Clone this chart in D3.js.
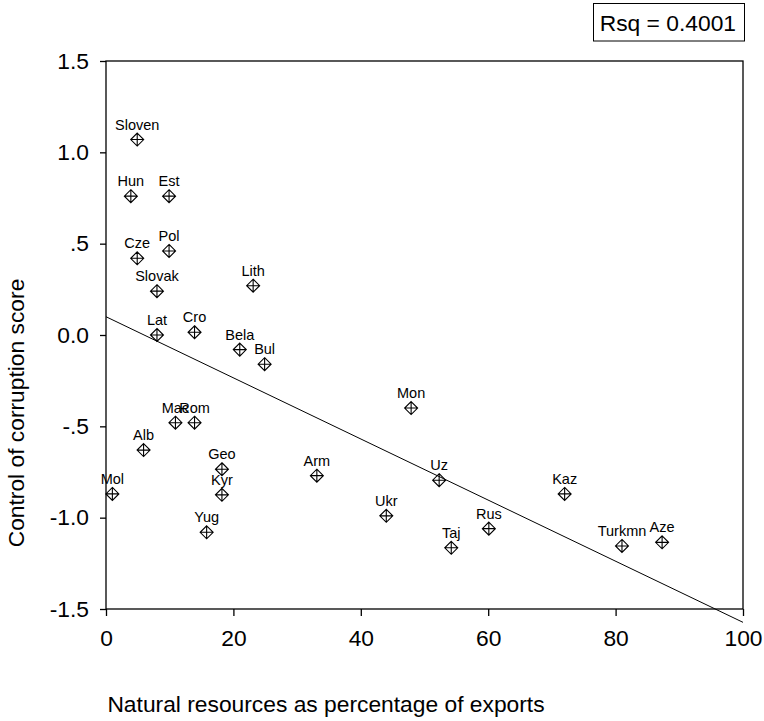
<!DOCTYPE html>
<html><head><meta charset="utf-8">
<script src="https://cdn.jsdelivr.net/npm/d3@7"></script>
<style>
body{margin:0;background:#fff;}
svg text{font-family:"Liberation Sans",Arial,Helvetica,sans-serif;fill:#000;}
</style></head>
<body><svg id="c" width="764" height="721"></svg>
<script>
const countries = ["Sloven","Hun","Est","Cze","Pol","Slovak","Lith","Lat","Cro","Bela","Bul","Mac","Rom","Alb","Mol","Geo","Kyr","Yug","Arm","Mon","Uz","Ukr","Taj","Rus","Kaz","Turkmn","Aze"];
const resources = [4.9,3.9,9.9,4.9,9.9,8.0,23.1,8.0,13.9,21.0,24.9,10.9,13.9,5.9,1.0,18.2,18.2,15.8,33.1,47.9,52.3,44.0,54.2,60.1,72.0,81.0,87.3];
const corruption = [1.07,0.76,0.76,0.42,0.46,0.24,0.27,0.00,0.015,-0.08,-0.16,-0.48,-0.48,-0.63,-0.87,-0.735,-0.875,-1.08,-0.77,-0.40,-0.795,-0.99,-1.165,-1.06,-0.87,-1.155,-1.135];
const xTicks = [0,20,40,60,80,100];
const yTicks = [1.5,1.0,0.5,0.0,-0.5,-1.0,-1.5];
const yTickLabels = ["1.5","1.0",".5","0.0","-.5","-1.0","-1.5"];
const fitIntercept = 0.10;
const fitSlope = -0.01673;
const rsqLabel = "Rsq = 0.4001";
const xTitle = "Natural resources as percentage of exports";
const yTitle = "Control of corruption score";

const svg = d3.select("#c");
const L=106, R=743, T=61, B=609;
const x = d3.scaleLinear().domain([0,100]).range([L,R]);
const y = d3.scaleLinear().domain([-1.5,1.5]).range([B,T]);
const big = "22.8px";

// frame
svg.append("rect").attr("x",L).attr("y",T).attr("width",R-L).attr("height",B-T)
  .attr("fill","none").attr("stroke","#000").attr("stroke-width",1.3);

// axes
const yAxis = d3.axisLeft(y).tickValues(yTicks).tickSize(6).tickPadding(11)
  .tickFormat((d,i)=>yTickLabels[i]);
const gy = svg.append("g").attr("transform",`translate(${L},0)`).call(yAxis);
const xAxis = d3.axisBottom(x).tickValues(xTicks).tickSize(7).tickPadding(14).tickFormat(d3.format("d"));
const gx = svg.append("g").attr("transform",`translate(0,${B})`).call(xAxis);
[gy,gx].forEach(g=>{
  g.select(".domain").remove();
  g.selectAll(".tick line").attr("stroke","#000").attr("stroke-width",1.3);
  g.selectAll(".tick text").style("font-size",big).attr("fill","#000")
   .style("font-family","'Liberation Sans',Arial,sans-serif");
});

// regression line
svg.append("line")
  .attr("x1",x(0)).attr("y1",y(fitIntercept))
  .attr("x2",x(100)).attr("y2",y(fitIntercept+fitSlope*100))
  .attr("stroke","#000").attr("stroke-width",1);

// points
const s = 6.5;
const pts = svg.append("g").selectAll("g").data(countries).join("g")
  .attr("transform",(d,i)=>`translate(${x(resources[i])},${y(corruption[i])})`);
pts.append("path")
  .attr("d",`M0,${-s}L${s},0L0,${s}L${-s},0Z M0,${-s}V${s} M${-s},0H${s}`)
  .attr("fill","none").attr("stroke","#000").attr("stroke-width",1.1);
pts.append("text").attr("text-anchor","middle").attr("y",-10)
  .style("font-size","14.5px").text(d=>d);

// titles
svg.append("text").attr("x",326).attr("y",712).attr("text-anchor","middle")
  .style("font-size",big).text(xTitle);
svg.append("text").attr("transform","translate(24,413) rotate(-90)").attr("text-anchor","middle")
  .style("font-size",big).text(yTitle);

// Rsq box
svg.append("rect").attr("x",593.5).attr("y",3.5).attr("width",151).attr("height",37.5)
  .attr("fill","#fff").attr("stroke","#000").attr("stroke-width",1);
svg.append("text").attr("x",736).attr("y",30.5).attr("text-anchor","end")
  .style("font-size",big).text(rsqLabel);
</script></body></html>
